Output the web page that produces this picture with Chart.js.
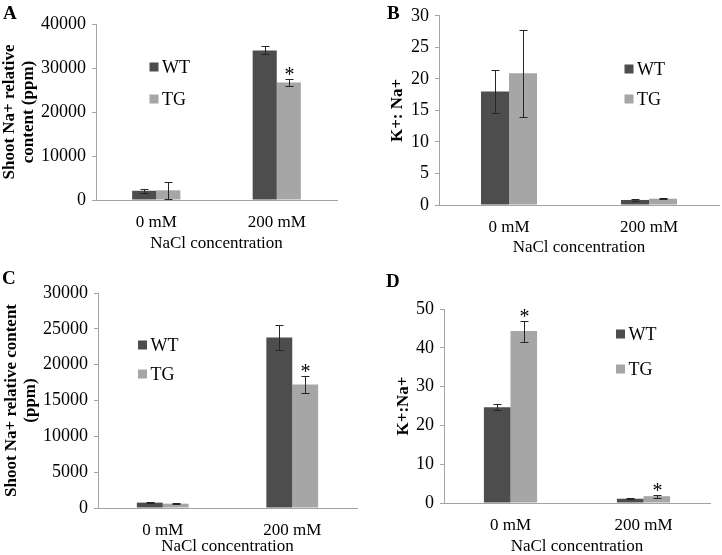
<!DOCTYPE html>
<html><head><meta charset="utf-8">
<script src="https://cdn.jsdelivr.net/npm/chart.js@4.4.0/dist/chart.umd.min.js"></script>
<style>
html,body{margin:0;padding:0;background:#fff;}
#wrap{position:relative;width:722px;height:555px;overflow:hidden;background:#fff;}
canvas{position:absolute;left:0;top:0;}
.lbl{position:absolute;font:bold 19px "Liberation Serif","Times New Roman",serif;color:#000;line-height:1;}
</style></head><body>
<div id="wrap">
<canvas id="cA" width="722" height="555"></canvas>
<canvas id="cB" width="722" height="555"></canvas>
<canvas id="cC" width="722" height="555"></canvas>
<canvas id="cD" width="722" height="555"></canvas>
<div class="lbl" style="left:3px;top:3px">A</div>
<div class="lbl" style="left:387px;top:3px">B</div>
<div class="lbl" style="left:2px;top:268px">C</div>
<div class="lbl" style="left:386px;top:271px">D</div>
</div>
<script>
// ---------- data ----------
const categories = ['0 mM', '200 mM'];
const seriesNames = ['WT', 'TG'];

// Panel A: Shoot Na+ relative content (ppm)
const wtA = [2100, 34000];
const wtAErr = [500, 900];
const tgA = [2200, 26700];
const tgAErr = [1900, 900];
const wtASig = [false, false];
const tgASig = [false, true];
const yTicksA = [0, 10000, 20000, 30000, 40000];

// Panel B: K+: Na+
const wtB = [18.0, 0.8];
const wtBErr = [3.45, 0.1];
const tgB = [20.9, 1.0];
const tgBErr = [6.9, 0.12];
const wtBSig = [false, false];
const tgBSig = [false, false];
const yTicksB = [0, 5, 10, 15, 20, 25, 30];

// Panel C: Shoot Na+ relative content (ppm)
const wtC = [750, 23800];
const wtCErr = [60, 1700];
const tgC = [600, 17250];
const tgCErr = [60, 1150];
const wtCSig = [false, false];
const tgCSig = [false, true];
const yTicksC = [0, 5000, 10000, 15000, 20000, 25000, 30000];

// Panel D: K+:Na+
const wtD = [24.7, 1.1];
const wtDErr = [0.8, 0.15];
const tgD = [44.3, 1.75];
const tgDErr = [2.7, 0.4];
const wtDSig = [false, false];
const tgDSig = [true, true];
const yTicksD = [0, 10, 20, 30, 40, 50];

// ---------- style ----------
const FONT = '"Liberation Serif","Times New Roman",serif';
const WT_COLOR = '#4d4d4d';
const TG_COLOR = '#a6a6a6';
const AXIS_COLOR = '#a3a3a3';
const LH = 1.1;

const errPlugin = {
  id: 'errbars',
  afterDatasetsDraw(chart) {
    const ctx = chart.ctx, ys = chart.scales.y;
    chart.data.datasets.forEach((ds, di) => {
      const meta = chart.getDatasetMeta(di);
      meta.data.forEach((bar, i) => {
        const v = ds.data[i], e = ds.errors[i];
        const x = Math.round(bar.x) + 0.5;
        const yt = Math.round(ys.getPixelForValue(v + e)) + 0.5;
        const yb = Math.round(ys.getPixelForValue(Math.max(v - e, 0))) + 0.5;
        ctx.save();
        ctx.strokeStyle = '#262626';
        ctx.lineWidth = 1;
        ctx.beginPath();
        ctx.moveTo(x, yt); ctx.lineTo(x, yb);
        ctx.moveTo(x - 4, yt); ctx.lineTo(x + 4, yt);
        ctx.moveTo(x - 4, yb); ctx.lineTo(x + 4, yb);
        ctx.stroke();
        if (ds.sig[i]) {
          ctx.fillStyle = '#000';
          ctx.font = '20px ' + FONT;
          ctx.textAlign = 'center';
          ctx.textBaseline = 'alphabetic';
          ctx.fillText('*', x, yt + 1);
        }
        ctx.restore();
      });
    });
  }
};

const legendPlugin = {
  id: 'boxLegend',
  afterDraw(chart, args, opts) {
    const ctx = chart.ctx;
    chart.data.datasets.forEach((ds, di) => {
      const y = opts.ys[di];
      ctx.save();
      ctx.fillStyle = ds.backgroundColor;
      ctx.fillRect(opts.x - 4.5, y - 4.5, 9, 9);
      ctx.fillStyle = '#000';
      ctx.font = '18px ' + FONT;
      ctx.textBaseline = 'middle';
      ctx.textAlign = 'left';
      ctx.fillText(ds.label, opts.x + 8, y + 1);
      ctx.restore();
    });
  }
};

function makeChart(id, g, wt, wtErr, wtSig, tg, tgErr, tgSig, yTicks) {
  const lh = 17 * LH;
  const padLeft = g.titleX - lh / 2;
  const yWidth = g.L - padLeft;
  const xHeight = g.titleDY + lh / 2;
  return new Chart(document.getElementById(id), {
    type: 'bar',
    data: {
      labels: categories,
      datasets: [
        { label: seriesNames[0], data: wt, errors: wtErr, sig: wtSig, backgroundColor: WT_COLOR, borderWidth: 0, categoryPercentage: 0.4, barPercentage: 1.0 },
        { label: seriesNames[1], data: tg, errors: tgErr, sig: tgSig, backgroundColor: TG_COLOR, borderWidth: 0, categoryPercentage: 0.4, barPercentage: 1.0 }
      ]
    },
    options: {
      responsive: false,
      animation: false,
      devicePixelRatio: 1,
      layout: { padding: { left: padLeft, right: 722 - g.R, top: g.T, bottom: 555 - g.B - xHeight } },
      plugins: {
        legend: { display: false },
        tooltip: { enabled: false },
        boxLegend: { x: g.legX, ys: g.legY }
      },
      scales: {
        x: {
          grid: { display: false, drawTicks: false },
          border: { display: true, color: AXIS_COLOR, width: 1 },
          ticks: { color: '#000', font: { family: FONT, size: 17, lineHeight: LH }, padding: g.tickPad, maxRotation: 0 },
          title: { display: true, text: 'NaCl concentration', color: '#000', font: { family: FONT, size: 17, lineHeight: LH }, padding: 0 },
          afterFit(s) { s.height = xHeight; }
        },
        y: {
          min: yTicks[0], max: yTicks[yTicks.length - 1],
          afterBuildTicks(s) { s.ticks = yTicks.map(v => ({ value: v })); },
          grid: { drawOnChartArea: false, drawTicks: true, tickLength: 4, tickColor: AXIS_COLOR },
          border: { display: true, color: AXIS_COLOR, width: 1 },
          ticks: { color: '#000', font: { family: FONT, size: 18, lineHeight: LH }, padding: 6, callback: v => String(v) },
          title: { display: true, text: g.yTitle, color: '#000', font: { family: FONT, size: 17, weight: 'bold', lineHeight: LH }, padding: 0 },
          afterFit(s) { s.width = yWidth; }
        }
      }
    },
    plugins: [errPlugin, legendPlugin]
  });
}

makeChart('cA', { L: 96, R: 337, T: 24, B: 200, titleX: 10, titleDY: 44, tickPad: 13,
  yTitle: ['Shoot Na+ relative', 'content (ppm)'], legX: 154, legY: [67, 99] },
  wtA, wtAErr, wtASig, tgA, tgAErr, tgASig, yTicksA);

makeChart('cB', { L: 439, R: 719, T: 14, B: 205, titleX: 398, titleDY: 43, tickPad: 13,
  yTitle: 'K+: Na+', legX: 629, legY: [69, 99] },
  wtB, wtBErr, wtBSig, tgB, tgBErr, tgBSig, yTicksB);

makeChart('cC', { L: 98, R: 357, T: 293, B: 508, titleX: 12, titleDY: 39, tickPad: 13,
  yTitle: ['Shoot Na+ relative content', '(ppm)'], legX: 142.5, legY: [345, 374] },
  wtC, wtCErr, wtCSig, tgC, tgCErr, tgCSig, yTicksC);

makeChart('cD', { L: 444, R: 710, T: 309, B: 503, titleX: 404, titleDY: 44, tickPad: 13,
  yTitle: 'K+:Na+', legX: 620.5, legY: [334, 369] },
  wtD, wtDErr, wtDSig, tgD, tgDErr, tgDSig, yTicksD);
</script>
</body></html>
